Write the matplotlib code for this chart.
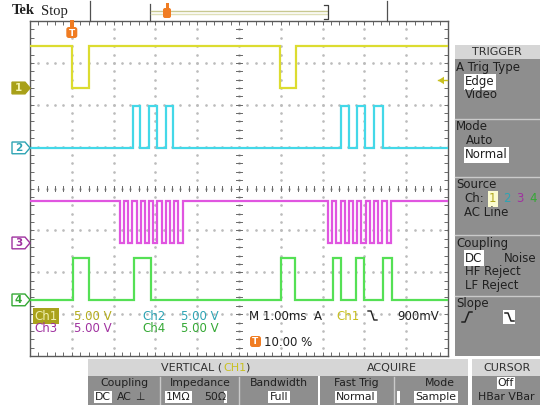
import matplotlib
matplotlib.use("Agg")
import numpy as np
import matplotlib.pyplot as plt
import matplotlib.patches as mpatches
from matplotlib.transforms import blended_transform_factory

# time in ms (1 ms/div, trigger at 10 %), levels in volts (5 V/div)
t_start, t_end = -1.0, 9.0
high_volts = 5.0
volts_per_div = 5.0

ch_names = ["1", "2", "3", "4"]
ch_offsets = [2.40, 0.97, -1.30, -2.66]      # ground marker position, divisions
ch_idle_high = [True, False, True, False]
ch_colors = ["#dcdc30", "#44d8e8", "#e055e0", "#55e055"]
ch_text_colors = ["#b4ac1c", "#2ea4b4", "#a032a0", "#34a834"]

ch1_pulses = [(0.00, 0.41), (4.98, 5.36)]
ch2_pulses = [(1.46, 1.63), (1.85, 2.04), (2.25, 2.42),
              (6.44, 6.63), (6.82, 7.01), (7.23, 7.44)]
ch3_pulses = [(1.15, 1.25), (1.35, 1.45), (1.55, 1.65), (1.75, 1.85),
              (1.95, 2.05), (2.15, 2.25), (2.35, 2.45), (2.55, 2.65),
              (6.13, 6.23), (6.33, 6.43), (6.53, 6.63), (6.73, 6.83),
              (6.93, 7.03), (7.13, 7.23), (7.33, 7.43), (7.53, 7.63)]
ch4_pulses = [(0.03, 0.41), (1.49, 1.89), (5.00, 5.34),
              (6.25, 6.44), (6.80, 6.99), (7.44, 7.66)]
all_pulses = [ch1_pulses, ch2_pulses, ch3_pulses, ch4_pulses]

trig_level_volts = 0.9


def step_trace(pulses, idle_high):
    idle, active = (high_volts, 0.0) if idle_high else (0.0, high_volts)
    xs, ys = [t_start], [idle]
    for a, b in pulses:
        xs += [a, a, b, b]
        ys += [idle, active, active, idle]
    xs.append(t_end)
    ys.append(idle)
    return np.array(xs), np.array(ys)


W, H = 540, 405
fig = plt.figure(figsize=(5.4, 4.05), dpi=100)
fig.patch.set_facecolor("white")

# graticule
gl, gr, gt, gb = 30, 448, 21, 356
ax = fig.add_axes([gl / W, (H - gb) / H, (gr - gl) / W, (gb - gt) / H])
ax.set_xlim(t_start, t_end)
ax.set_ylim(-4, 4)
ax.set_facecolor("white")
for s in ax.spines.values():
    s.set_color("#5a5a5a")
    s.set_linewidth(1.0)
ax.set_xticks(np.arange(t_start, t_end + 0.01, 0.2))
ax.set_yticks(np.arange(-4, 4.01, 0.2))
ax.tick_params(direction="in", length=3, width=0.7, color="#6a6a6a",
               top=True, right=True, labelleft=False, labelbottom=False)

dots = np.arange(-4, 4.01, 0.2)
for xv in np.arange(t_start + 1, t_end, 1.0):
    ax.plot(np.full_like(dots, xv), dots, ls="none", marker="o", ms=0.9,
            color="#bcbcbc", zorder=1)
dots_x = np.arange(t_start, t_end + 0.01, 0.2)
for yv in range(-3, 4):
    ax.plot(dots_x, np.full_like(dots_x, yv), ls="none", marker="o", ms=0.9,
            color="#bcbcbc", zorder=1)
# centre cross with minor ticks
xc = (t_start + t_end) / 2
for yv in dots:
    ax.plot([xc - 0.07, xc + 0.07], [yv, yv], color="#6a6a6a", lw=0.7, zorder=1)
for xv in dots_x:
    ax.plot([xv, xv], [-0.07, 0.07], color="#6a6a6a", lw=0.7, zorder=1)

for pulses, off, idle_high, col in zip(all_pulses, ch_offsets, ch_idle_high, ch_colors):
    xs, ys = step_trace(pulses, idle_high)
    ax.plot(xs, off + ys / volts_per_div, color=col, lw=1.6, zorder=3,
            solid_joinstyle="miter")

# overlay in pixel coordinates
ov = fig.add_axes([0, 0, 1, 1])
ov.set_xlim(0, W)
ov.set_ylim(H, 0)
ov.set_axis_off()
mix = blended_transform_factory(ov.transData, ax.transData)

FS = 8.5


def txt(x, y, s, color="#202020", size=FS, box=None, ha="left", weight="normal",
        family="DejaVu Sans"):
    kw = {}
    if box is not None:
        kw["bbox"] = dict(boxstyle="square,pad=0.12", fc=box, ec="none")
    ov.text(x, y, s, color=color, fontsize=size, ha=ha, va="center",
            fontweight=weight, family=family, **kw)


def rect(x0, y0, x1, y1, fc, ec="none", lw=0, z=1):
    ov.add_patch(mpatches.Rectangle((x0, y0), x1 - x0, y1 - y0, fc=fc, ec=ec,
                                    lw=lw, zorder=z))


# channel ground markers
for i, (name, off, col, tcol) in enumerate(zip(ch_names, ch_offsets, ch_colors, ch_text_colors)):
    h = 0.14
    pts = [(12, off - h), (25, off - h), (30, off), (25, off + h), (12, off + h)]
    filled = i == 0
    ov.add_patch(mpatches.Polygon(pts, closed=True, transform=mix,
                                  fc="#a8a018" if filled else "white",
                                  ec="#a8a018" if filled else tcol, lw=1.0, zorder=4))
    ov.text(18.5, off, name, transform=mix, ha="center", va="center", fontsize=7.5,
            color="#f4f4b0" if filled else tcol, fontweight="bold", zorder=5)

# trigger level arrow on the right edge
lvl = ch_offsets[0] + trig_level_volts / volts_per_div
ov.add_patch(mpatches.Polygon([(438, lvl), (444, lvl + 0.09), (444, lvl - 0.09)],
                              transform=mix, fc="#c8c020", ec="none", zorder=5))
ov.plot([438, 447], [lvl, lvl], transform=mix, color="#c8c020", lw=1.0, zorder=5)


def t_icon(x, y, w=11, h=11):
    ov.add_patch(mpatches.FancyBboxPatch((x, y), w, h,
                                         boxstyle="round,pad=0,rounding_size=2.5",
                                         fc="#f07c22", ec="none", zorder=6))
    ov.text(x + w / 2, y + h / 2 + 0.5, "T", ha="center", va="center",
            fontsize=6.5, color="white", fontweight="bold", zorder=7)


# trigger position marker (10 %)
trig_px = gl + (0 - t_start) / (t_end - t_start) * (gr - gl)
rect(trig_px - 2, gt - 1, trig_px + 2, gt + 6, "#f07c22", z=6)
t_icon(trig_px - 5.5, gt + 6)

# top status bar
txt(12, 11, "Tek", size=10.5, weight="bold", family="Liberation Serif")
txt(41, 11, "Stop", size=10.5, family="Liberation Serif")
for xv, y0 in [(90, 1), (150, 4), (387, 1)]:
    ov.plot([xv, xv], [y0, gt], color="#505050", lw=0.9)
ov.plot([151, 327], [10.5, 10.5], color="#c8c890", lw=1.0)
ov.plot([151, 327], [13.5, 13.5], color="#e0e0b8", lw=1.0)
ov.plot([324, 328, 328, 324], [5, 5, 19, 19], color="#404040", lw=0.9)
rect(165.5, 3, 168.5, 9, "#f07c22", z=6)
ov.add_patch(mpatches.FancyBboxPatch((163, 8), 8, 10,
                                     boxstyle="round,pad=0,rounding_size=2",
                                     fc="#f07c22", ec="none", zorder=6))

# readouts inside the graticule
txt(34, 316, "Ch1", color="#f0f0b0", box="#aaa21c")
txt(74, 316, "5.00 V", color=ch_text_colors[0])
txt(142, 316, "Ch2", color=ch_text_colors[1])
txt(181, 316, "5.00 V", color=ch_text_colors[1])
txt(34, 329, "Ch3", color=ch_text_colors[2])
txt(74, 329, "5.00 V", color=ch_text_colors[2])
txt(142, 329, "Ch4", color=ch_text_colors[3])
txt(181, 329, "5.00 V", color=ch_text_colors[3])
txt(249, 316, "M 1.00ms  A", color="#202020")
txt(336, 316, "Ch1", color="#c8c020")
ov.plot([368, 371, 374, 377], [311, 311, 320, 320], color="#202020", lw=1.0)
txt(397, 316, "900mV", color="#202020")
t_icon(250, 336)
txt(264, 342, "10.00 %", color="#202020")

# right-hand TRIGGER menu
MG, HG, SEP = "#8e8e8e", "#d6d6d6", "#cacaca"
rect(455, 45, 540, 356, MG)
rect(455, 45, 540, 59, HG)
txt(497, 52, "TRIGGER", color="#303030", ha="center", size=8)
for yv in [119, 177, 235, 296]:
    ov.plot([455, 540], [yv, yv], color=SEP, lw=1.0)
txt(456, 67, "A Trig Type")
txt(465, 82, "Edge", box="white")
txt(465, 95, "Video")
txt(456, 127, "Mode")
txt(466, 141, "Auto")
txt(465, 155, "Normal", box="white")
txt(456, 185, "Source")
txt(464, 199, "Ch:")
txt(489, 199, "1", color="#b0a820", box="#fbfbd0")
txt(503, 199, "2", color="#2ea4b4")
txt(516, 199, "3", color="#a032a0")
txt(529, 199, "4", color="#34a834")
txt(464, 213, "AC Line")
txt(456, 243, "Coupling")
txt(465, 258, "DC", box="white")
txt(504, 258, "Noise")
txt(465, 272, "HF Reject")
txt(465, 286, "LF Reject")
txt(456, 303, "Slope")
ov.plot([462, 465, 469, 472], [322, 322, 312, 312], color="#202020", lw=1.1)
rect(503, 310, 515, 324, "white", z=2)
ov.plot([505, 508, 511, 514], [313, 313, 321, 321], color="#202020", lw=1.1, zorder=3)

# bottom menus
BS = 7.8
rect(88, 359, 318, 376, HG)
rect(88, 376, 318, 405, MG)
txt(222, 368, "VERTICAL (", color="#303030", ha="right", size=8)
txt(223, 368, "CH1", color="#c8c020", size=8)
txt(245, 368, ")", color="#303030", size=8)
for xv in [160, 239]:
    ov.plot([xv, xv], [377, 405], color=SEP, lw=1.0)
txt(124, 383, "Coupling", ha="center", size=BS)
txt(200, 383, "Impedance", ha="center", size=BS)
txt(279, 383, "Bandwidth", ha="center", size=BS)
txt(95, 397, "DC", box="white", size=BS)
txt(117, 397, "AC", size=BS)
txt(135, 397, "⊥", size=BS)
txt(166, 397, "1MΩ", box="white", size=BS)
txt(204, 397, "50Ω", size=BS)
rect(224, 391, 227, 403, "white", z=2)
txt(279, 397, "Full", box="white", ha="center", size=BS)

rect(318, 359, 468, 376, HG)
rect(320, 376, 468, 405, MG)
txt(392, 368, "ACQUIRE", color="#303030", ha="center", size=8)
ov.plot([394, 394], [377, 405], color=SEP, lw=1.0)
txt(356, 383, "Fast Trig", ha="center", size=BS)
txt(356, 397, "Normal", box="white", ha="center", size=BS)
rect(397, 391, 400, 403, "white", z=2)
txt(440, 383, "Mode", ha="center", size=BS)
txt(436, 397, "Sample", box="white", ha="center", size=BS)

rect(472, 359, 540, 376, HG)
rect(472, 376, 540, 405, MG)
txt(507, 368, "CURSOR", color="#303030", ha="center", size=8)
txt(506, 383, "Off", box="white", ha="center", size=BS)
txt(506, 397, "HBar VBar", ha="center", size=BS)

fig.savefig("out.png", dpi=100)
